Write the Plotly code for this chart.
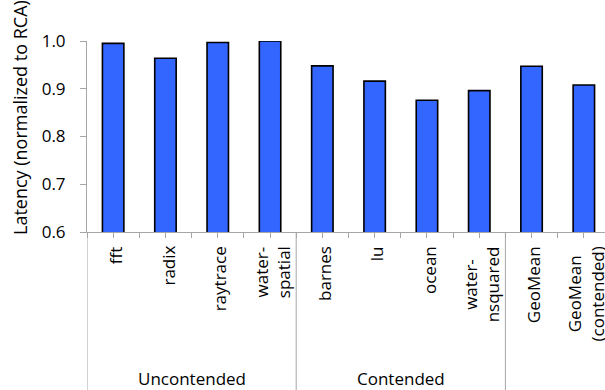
import plotly.graph_objects as go

# Benchmarks (tick labels) and their normalized latency
categories = ["fft", "radix", "raytrace", "water-<br>spatial",
              "barnes", "lu", "ocean", "water-<br>nsquared",
              "GeoMean", "GeoMean<br>(contended)"]
latency = [0.995, 0.964, 0.997, 1.0, 0.948, 0.916, 0.876, 0.896, 0.947, 0.908]

# Category groups: (label, first index, last index)
groups = [("Uncontended", 0, 3), ("Contended", 4, 7), ("", 8, 9)]

y_ticks = [0.6, 0.7, 0.8, 0.9, 1.0]
y_tick_text = ["0.6", "0.7", "0.8", "0.9", "1.0"]

FONT = "Open Sans"
AXIS_GRAY = "#a6a6a6"

W, H = 605, 390
ML, MT, MB, MR = 87, 41, 158, 0
plot_h = H - MT - MB
plot_w = W - ML - MR
cat_px = 52.3

def px_to_paper_y(py):
    return (H - MB - py) / plot_h

def px_to_paper_x(px):
    return (px - ML) / plot_w

x_idx = list(range(len(categories)))

fig = go.Figure(go.Bar(
    x=x_idx, y=latency,
    width=0.41,
    marker=dict(color="#3366ff", line=dict(color="#000000", width=1.6)),
))

annotations = []
for i, lab in enumerate(categories):
    annotations.append(dict(
        x=i + 0.04, xref="x", y=px_to_paper_y(244), yref="paper",
        text=lab, textangle=-90, showarrow=False,
        xanchor="center", yanchor="top", align="center",
        font=dict(family=FONT, size=17, color="#000000"),
    ))

shapes = []
for name, a, b in groups:
    if name:
        annotations.append(dict(
            x=(a + b) / 2, xref="x", y=px_to_paper_y(378), yref="paper",
            text=name, showarrow=False, xanchor="center", yanchor="middle",
            font=dict(family=FONT, size=17, color="#000000"),
        ))
    # group divider running below the axis
    shapes.append(dict(
        type="line", xref="x", yref="paper",
        x0=a - 0.5, x1=a - 0.5, y0=0, y1=px_to_paper_y(392),
        line=dict(color=AXIS_GRAY, width=1),
    ))

annotations.append(dict(
    x=px_to_paper_x(20), xref="paper", y=px_to_paper_y(118), yref="paper",
    text="Latency (normalized to RCA)", textangle=-90, showarrow=False,
    xanchor="center", yanchor="middle",
    font=dict(family=FONT, size=18, color="#000000"),
))

half_ticks = [k / 2 for k in range(-1, 2 * len(categories))]

fig.update_layout(
    width=W, height=H,
    margin=dict(l=ML, r=MR, t=MT, b=MB),
    plot_bgcolor="white", paper_bgcolor="white",
    showlegend=False,
    xaxis=dict(
        range=[-0.5, -0.5 + plot_w / cat_px],
        tickvals=half_ticks, showticklabels=False,
        ticks="outside", ticklen=5, tickcolor=AXIS_GRAY, tickwidth=1,
        showline=True, linecolor=AXIS_GRAY, linewidth=1,
        showgrid=False, zeroline=False,
    ),
    yaxis=dict(
        range=[0.6, 1.0],
        tickvals=y_ticks, ticktext=y_tick_text,
        ticks="outside", ticklen=6, tickcolor=AXIS_GRAY, tickwidth=1,
        ticklabelstandoff=11,
        showline=True, linecolor=AXIS_GRAY, linewidth=1,
        showgrid=False, zeroline=False,
        tickfont=dict(family=FONT, size=17, color="#000000"),
    ),
    annotations=annotations,
    shapes=shapes,
)

fig.write_html("out.html")
